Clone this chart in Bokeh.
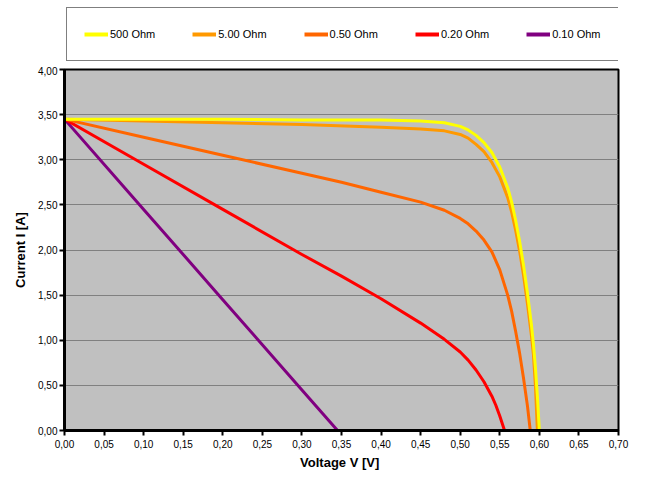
from bokeh.plotting import figure
from bokeh.layouts import column
from bokeh.models import Legend, LegendItem, FixedTicker, Range1d
from bokeh.embed import file_html
from bokeh.resources import INLINE

# ---------------- data ----------------
series_names = ["500 Ohm", "5.00 Ohm", "0.50 Ohm", "0.20 Ohm", "0.10 Ohm"]
series_colors = ["#FFFF00", "#FF9900", "#FF6600", "#FF0000", "#800080"]

v_500 = [0.00, 0.10, 0.20, 0.30, 0.40, 0.45, 0.48, 0.50, 0.51, 0.52, 0.53, 0.54,
         0.55, 0.56, 0.565, 0.57, 0.575, 0.58, 0.585, 0.59, 0.5925, 0.595, 0.5975, 0.600]
i_500 = [3.45, 3.45, 3.45, 3.44, 3.44, 3.43, 3.41, 3.37, 3.33, 3.27, 3.19, 3.08,
         2.92, 2.69, 2.53, 2.33, 2.10, 1.83, 1.52, 1.17, 0.96, 0.70, 0.38, 0.00]

v_5 = [0.00, 0.10, 0.20, 0.30, 0.40, 0.45, 0.48, 0.50, 0.51, 0.52, 0.53, 0.54,
       0.55, 0.56, 0.565, 0.57, 0.575, 0.58, 0.585, 0.59, 0.5925, 0.595, 0.5975]
i_5 = [3.45, 3.43, 3.41, 3.39, 3.36, 3.34, 3.32, 3.28, 3.24, 3.17, 3.09, 2.97,
       2.81, 2.58, 2.42, 2.22, 1.99, 1.72, 1.40, 1.05, 0.84, 0.50, 0.00]

v_050 = [0.00, 0.10, 0.20, 0.30, 0.35, 0.40, 0.45, 0.48, 0.50, 0.51, 0.52, 0.53,
         0.54, 0.55, 0.56, 0.565, 0.57, 0.575, 0.58, 0.585, 0.5885]
i_050 = [3.45, 3.25, 3.05, 2.85, 2.75, 2.64, 2.53, 2.44, 2.35, 2.29, 2.21, 2.11,
         1.98, 1.78, 1.50, 1.32, 1.10, 0.86, 0.58, 0.27, 0.00]

v_020 = [0.00, 0.10, 0.20, 0.30, 0.35, 0.40, 0.45, 0.48, 0.50, 0.51, 0.52, 0.53,
         0.54, 0.545, 0.55, 0.556]
i_020 = [3.45, 2.95, 2.45, 1.95, 1.71, 1.46, 1.19, 1.01, 0.87, 0.78, 0.67, 0.54,
         0.38, 0.28, 0.16, 0.00]

v_010 = [0.00, 0.10, 0.20, 0.30, 0.345]
i_010 = [3.45, 2.45, 1.45, 0.45, 0.00]

x_ticks = [0.00, 0.05, 0.10, 0.15, 0.20, 0.25, 0.30, 0.35, 0.40, 0.45, 0.50, 0.55, 0.60, 0.65, 0.70]
x_tick_labels = ["0,00", "0,05", "0,10", "0,15", "0,20", "0,25", "0,30", "0,35",
                 "0,40", "0,45", "0,50", "0,55", "0,60", "0,65", "0,70"]
y_ticks = [0.0, 0.5, 1.0, 1.5, 2.0, 2.5, 3.0, 3.5, 4.0]
y_tick_labels = ["0,00", "0,50", "1,00", "1,50", "2,00", "2,50", "3,00", "3,50", "4,00"]

x_title = "Voltage V  [V]"
y_title = "Current I [A]"

FONT = "Liberation Sans"

# ---------------- legend strip (separate small figure above the chart) ----------------
lg = figure(width=640, height=66, output_backend="svg", toolbar_location=None,
            x_axis_location=None, y_axis_location=None,
            x_range=Range1d(0, 1), y_range=Range1d(0, 1), min_border=0)
lg.grid.visible = False
lg.outline_line_color = None
lg.background_fill_color = "white"
lg.border_fill_color = "white"

# one-point lines outside the strip's range: they draw nothing but give legend swatches
lg_renderers = [lg.line([-5.0], [-5.0], line_color=c, line_width=4) for c in series_colors]
lg_items = [LegendItem(label=n, renderers=[r]) for n, r in zip(series_names, lg_renderers)]
legend = Legend(items=lg_items, orientation="horizontal", location=(2, 5),
                border_line_color="black", border_line_width=1,
                background_fill_color="white", background_fill_alpha=1.0,
                padding=17, spacing=37, margin=0,
                glyph_width=24, glyph_height=18, label_height=18,
                label_width=0, label_standoff=2,
                label_text_font=FONT, label_text_font_size="11px",
                label_text_color="black")
lg.add_layout(legend, "center")

# ---------------- main chart ----------------
p = figure(width=640, height=408, output_backend="svg", toolbar_location=None,
           x_range=Range1d(0, 0.70), y_range=Range1d(0, 4.0),
           min_border_left=64, min_border_right=22, min_border_top=3,
           min_border_bottom=44)

p.background_fill_color = "#C0C0C0"
p.border_fill_color = "white"
p.outline_line_color = "black"
p.outline_line_width = 2

p.xgrid.visible = False
p.ygrid.grid_line_color = "#808080"
p.ygrid.grid_line_width = 1

p.xaxis.ticker = FixedTicker(ticks=x_ticks)
p.xaxis.major_label_overrides = dict(zip(x_ticks, x_tick_labels))
p.yaxis.ticker = FixedTicker(ticks=y_ticks)
p.yaxis.major_label_overrides = dict(zip(y_ticks, y_tick_labels))

for ax in (p.xaxis, p.yaxis):
    ax.axis_line_color = "black"
    ax.axis_line_width = 3
    ax.major_tick_line_color = "black"
    ax.major_tick_line_width = 2
    ax.major_tick_in = 0
    ax.major_tick_out = 5
    ax.minor_tick_line_color = None
    ax.major_label_text_font = FONT
    ax.major_label_text_font_size = "10px"
    ax.major_label_text_color = "black"
    ax.axis_label_text_font = FONT
    ax.axis_label_text_font_size = "13px"
    ax.axis_label_text_font_style = "bold"
    ax.axis_label_text_color = "black"

p.xaxis.axis_label = x_title
p.yaxis.axis_label = y_title
p.xaxis.major_label_standoff = 4
p.yaxis.major_label_standoff = 2
p.xaxis.axis_label_standoff = 4
p.yaxis.axis_label_standoff = 7

series_v = [v_500, v_5, v_050, v_020, v_010]
series_i = [i_500, i_5, i_050, i_020, i_010]

# draw in reverse so the 500 Ohm curve lies on top, as in the reference
for name, color, v, i in reversed(list(zip(series_names, series_colors, series_v, series_i))):
    p.line(v, i, line_color=color, line_width=3, line_join="round")

layout = column(lg, p, spacing=0)

open("out.html", "w").write(file_html(layout, INLINE))
